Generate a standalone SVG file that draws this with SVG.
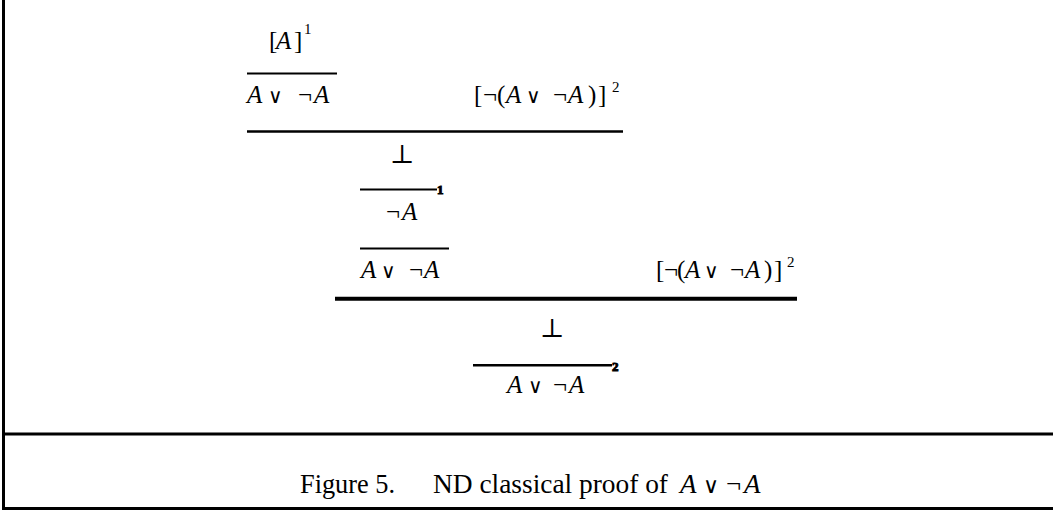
<svg xmlns="http://www.w3.org/2000/svg" width="1053" height="510" viewBox="0 0 1053 510">
<style>
text{font-family:"Liberation Serif","DejaVu Serif",serif;font-size:25px;fill:#000}
.i{font-style:italic}
.s{font-size:15px}
.lb{font-size:13px;font-weight:bold}
.op{font-family:"DejaVu Serif","Liberation Serif",serif;font-size:20px}
.bot{font-family:"DejaVu Serif","Liberation Serif",serif;font-size:26px}
.cap{font-size:27px}
.rule{stroke:#000;fill:none}
</style>
<rect width="1053" height="510" fill="#fff"/>
<g id="frame" class="rule">
<line x1="3.5" y1="0" x2="3.5" y2="510" stroke-width="3"/>
<line x1="2" y1="434" x2="1053" y2="434" stroke-width="3"/>
<line x1="2" y1="508.5" x2="1053" y2="508.5" stroke-width="3"/>
</g>
<g id="connectors" class="rule">
<line x1="247" y1="73.5" x2="337" y2="73.5" stroke-width="2"/>
<line x1="247" y1="131.5" x2="623" y2="131.5" stroke-width="2.5"/>
<line x1="360" y1="189.5" x2="437" y2="189.5" stroke-width="2"/>
<line x1="360" y1="248.5" x2="449" y2="248.5" stroke-width="2"/>
<line x1="335" y1="298.7" x2="797" y2="298.7" stroke-width="4"/>
<line x1="473" y1="365.3" x2="612" y2="365.3" stroke-width="2.5"/>
<text class="lb" x="437" y="194">1</text>
<text class="lb" x="612" y="371">2</text>
</g>
<g id="n1"><text y="49"><tspan x="269">[</tspan><tspan class="i" x="276">A</tspan><tspan x="294">]</tspan><tspan class="s" x="304" y="34">1</tspan></text></g>
<g id="n2"><text y="103"><tspan class="i" x="247">A</tspan><tspan class="op" x="268">∨</tspan><tspan x="298">¬</tspan><tspan class="i" x="314">A</tspan></text></g>
<g id="n3"><text y="103"><tspan x="474">[</tspan><tspan x="483">¬</tspan><tspan x="497">(</tspan><tspan class="i" x="506">A</tspan><tspan class="op" x="526">∨</tspan><tspan x="553">¬</tspan><tspan class="i" x="568">A</tspan><tspan x="588">)</tspan><tspan x="598">]</tspan><tspan class="s" x="612" y="92">2</tspan></text></g>
<g id="n4"><text class="bot" x="402" y="163" text-anchor="middle">⊥</text></g>
<g id="n5"><text y="220"><tspan x="386">¬</tspan><tspan class="i" x="402">A</tspan></text></g>
<g id="n6"><text y="278"><tspan class="i" x="361">A</tspan><tspan class="op" x="381">∨</tspan><tspan x="409">¬</tspan><tspan class="i" x="424">A</tspan></text></g>
<g id="n7"><text y="278"><tspan x="656">[</tspan><tspan x="664">¬</tspan><tspan x="677">(</tspan><tspan class="i" x="685">A</tspan><tspan class="op" x="704">∨</tspan><tspan x="730">¬</tspan><tspan class="i" x="745">A</tspan><tspan x="764">)</tspan><tspan x="774">]</tspan><tspan class="s" x="787" y="267">2</tspan></text></g>
<g id="n8"><text class="bot" x="552" y="337" text-anchor="middle">⊥</text></g>
<g id="n9"><text y="393"><tspan class="i" x="507">A</tspan><tspan class="op" x="528">∨</tspan><tspan x="553">¬</tspan><tspan class="i" x="569">A</tspan></text></g>
<g id="caption"><text class="cap" y="493"><tspan x="300" textLength="95" lengthAdjust="spacingAndGlyphs">Figure 5.</tspan><tspan x="433" textLength="235" lengthAdjust="spacingAndGlyphs">ND classical proof of</tspan><tspan class="i" x="680">A</tspan><tspan class="op" x="703" style="font-size:22px">∨</tspan><tspan x="726">¬</tspan><tspan class="i" x="744">A</tspan></text></g>
</svg>
